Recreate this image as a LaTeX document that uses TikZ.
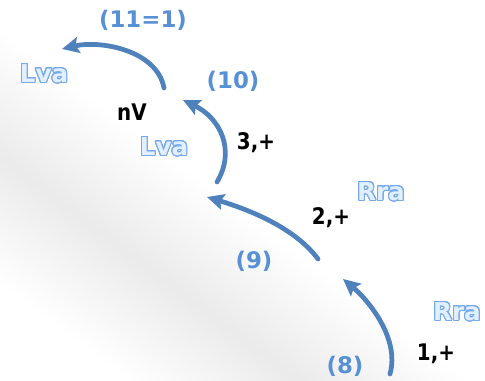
\documentclass[tikz,border=0pt]{standalone}
\usepackage{fontspec}
\setmainfont{DejaVu Sans}
\newfontfamily\signfont[FakeStretch=0.87]{DejaVu Sans}
\usepackage{contour}
\usetikzlibrary{arrows.meta}
\definecolor{cycblue}{RGB}{79,129,189}
\definecolor{numblue}{RGB}{88,144,214}
\definecolor{roomedge}{RGB}{118,170,236}
\definecolor{roomfill}{RGB}{226,239,254}
\contourlength{0.6pt}
\contournumber{24}
\newcommand{\roomtxt}[1]{\contour{roomedge}{\textcolor{roomfill}{#1}}}

\begin{document}
\begin{tikzpicture}[x=0.02cm, y=-0.02cm,
    >={Stealth[length=3.4mm, width=3.2mm, inset=0.6mm]},
    cyc/.style={->, line width=2.7pt, line cap=round, cycblue},
    numlbl/.style={inner sep=0pt, text=numblue, font=\fontsize{13pt}{15pt}\selectfont\bfseries},
    signlbl/.style={inner sep=0pt, font=\signfont\fontsize{13pt}{15pt}\selectfont\bfseries},
    room/.style={inner sep=0pt, font=\fontsize{14pt}{16pt}\selectfont\bfseries}]
  \useasboundingbox (0,0) rectangle (485,381);

  % soft grey band behind the cycle
  \begin{scope}
    \clip (0,0) rectangle (485,381);
    \foreach \w in {10,20,...,200}
      \draw[line width=\w*0.5669pt, black, opacity=0.0045] (-60,112) -- (420,472);
  \end{scope}

  % end points of the arrows
  \coordinate (a1s) at (390,374);
  \coordinate (a1e) at (343,279);
  \coordinate (a2s) at (318,259);
  \coordinate (a2e) at (207,197);
  \coordinate (a3s) at (217,182);
  \coordinate (a3e) at (183,100);
  \coordinate (a4s) at (164,88);
  \coordinate (a4e) at (62,49);

  \draw[cyc] (a1s) .. controls (400,338) and (368,300) .. (a1e);
  \draw[cyc] (a2s) .. controls (295,228) and (250,210) .. (a2e);
  \draw[cyc] (a3s) .. controls (236,150) and (220,118) .. (a3e);
  \draw[cyc] (a4s) .. controls (157,50) and (100,40) .. (a4e);

  % step numbers
  \node[numlbl] (n11) at (143,20) {(11=1)};
  \node[numlbl] (n10) at (233,81) {(10)};
  \node[numlbl] (n9) at (254,261) {(9)};
  \node[numlbl] (n8) at (345,366) {(8)};

  % signs
  \node[signlbl] (nv) at (132,112) {nV};
  \node[signlbl] (s3) at (256,143) {3,+};
  \node[signlbl] (s2) at (331,218) {2,+};
  \node[signlbl] (s1) at (436,354) {1,+};

  % chambers
  \node[room] (lva1) at (44,74) {\roomtxt{Lva}};
  \node[room] (lva2) at (164,147) {\roomtxt{Lva}};
  \node[room] (rra1) at (381,192) {\roomtxt{Rra}};
  \node[room] (rra2) at (457,312) {\roomtxt{Rra}};
\end{tikzpicture}
\end{document}
